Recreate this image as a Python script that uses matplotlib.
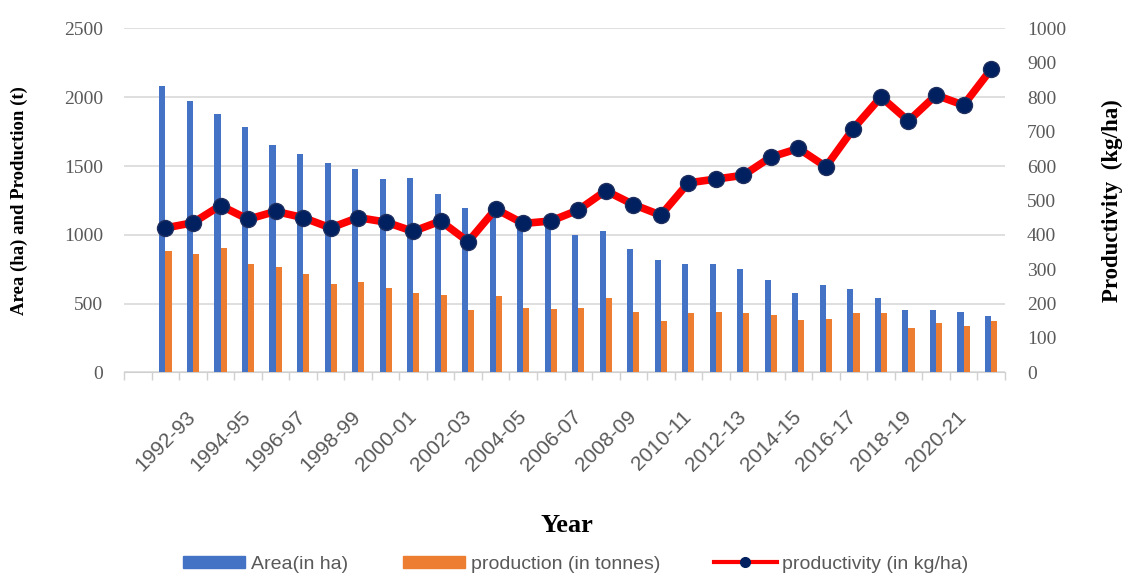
import numpy as np
import matplotlib.pyplot as plt
from matplotlib.patches import Patch
from matplotlib.lines import Line2D

years = ["1991-92", "1992-93", "1993-94", "1994-95", "1995-96", "1996-97",
         "1997-98", "1998-99", "1999-00", "2000-01", "2001-02", "2002-03",
         "2003-04", "2004-05", "2005-06", "2006-07", "2007-08", "2008-09",
         "2009-10", "2010-11", "2011-12", "2012-13", "2013-14", "2014-15",
         "2015-16", "2016-17", "2017-18", "2018-19", "2019-20", "2020-21",
         "2021-22"]

area = [2080, 1970, 1880, 1780, 1650, 1590, 1520, 1480, 1405, 1410, 1300,
        1195, 1160, 1080, 1090, 995, 1025, 895, 815, 790, 790, 750,
        668, 578, 638, 608, 538, 450, 452, 438, 410]

production = [880, 860, 905, 790, 765, 715, 640, 655, 610, 580, 565,
              450, 555, 470, 460, 470, 540, 440, 370, 430, 440, 430,
              420, 380, 385, 430, 430, 320, 360, 340, 370]

productivity = [420, 435, 485, 445, 468, 450, 420, 450, 437, 410, 440,
                380, 475, 433, 440, 472, 528, 488, 457, 551, 562, 573,
                626, 651, 598, 709, 801, 731, 806, 777, 881]

grey = '#595959'
x = np.arange(len(years))
width = 0.22

fig = plt.figure(figsize=(11.29, 5.76), dpi=100)
ax = fig.add_axes([0.11, 0.3536, 0.78, 0.597])
ax2 = ax.twinx()

ax.bar(x - width / 2, area, width=width, color='#4472c4', zorder=3)
ax.bar(x + width / 2, production, width=width, color='#ed7d31', zorder=3)
ax2.plot(x, productivity, color='#ff0000', linewidth=5.5, marker='o',
         markersize=11.5, markerfacecolor='#002060', markeredgecolor='#1f2f5f',
         markeredgewidth=1, zorder=4)

ax.set_xlim(-1.5, len(years) - 0.5)
ax.set_ylim(0, 2500)
ax.set_yticks(np.arange(0, 2501, 500))
ax2.set_ylim(0, 1000)
ax2.set_yticks(np.arange(0, 1001, 100))

# every second year labelled, tick marks between categories
ax.set_xticks(x[1::2])
ax.set_xticklabels(years[1::2], rotation=45, ha='right', va='center',
                   rotation_mode='anchor', fontsize=15, color=grey,
                   family='Liberation Sans')
ax.set_xticks(np.arange(-1.5, len(years), 1), minor=True)
ax.tick_params(axis='x', which='major', length=0, pad=30)
ax.tick_params(axis='x', which='minor', length=6, color='#d0d0d0', width=1)

for a in (ax, ax2):
    for s in a.spines.values():
        s.set_visible(False)
ax.spines['bottom'].set_visible(True)
ax.spines['bottom'].set_color('#d0d0d0')

ax.tick_params(axis='y', length=0, pad=15, labelsize=14, labelcolor=grey)
ax2.tick_params(axis='y', length=0, pad=16, labelsize=14, labelcolor=grey)
for lab in ax.get_yticklabels() + ax2.get_yticklabels():
    lab.set_family('Liberation Serif')

ax.yaxis.grid(True, color='#d9d9d9', linewidth=1.2, zorder=0)
ax.set_axisbelow(True)
ax.set_zorder(ax2.get_zorder() - 1)
ax.patch.set_visible(False)

ax.set_ylabel('Area (ha) and Production (t)', family='Liberation Serif',
              fontweight='bold', fontsize=13.5, labelpad=26)
ax2.set_ylabel('Productivity  (kg/ha)', family='Liberation Serif',
               fontweight='bold', fontsize=16.5, labelpad=26)
fig.text(0.502, 0.077, 'Year', family='Liberation Serif', fontweight='bold',
         fontsize=19, ha='center')

handles = [Patch(color='#4472c4'), Patch(color='#ed7d31'),
           Line2D([], [], color='#ff0000', linewidth=3, marker='o',
                  markersize=7, markerfacecolor='#002060',
                  markeredgecolor='#002060')]
fig.legend(handles, ['Area(in ha)', 'production (in tonnes)',
                     'productivity (in kg/ha)'],
           loc='lower center', bbox_to_anchor=(0.51, -0.025), ncol=3,
           frameon=False, handlelength=3.2, handleheight=0.6,
           columnspacing=2.8, handletextpad=0.3,
           prop={'family': 'Liberation Sans', 'size': 14}, labelcolor=grey)

fig.savefig('out.png', dpi=100)
